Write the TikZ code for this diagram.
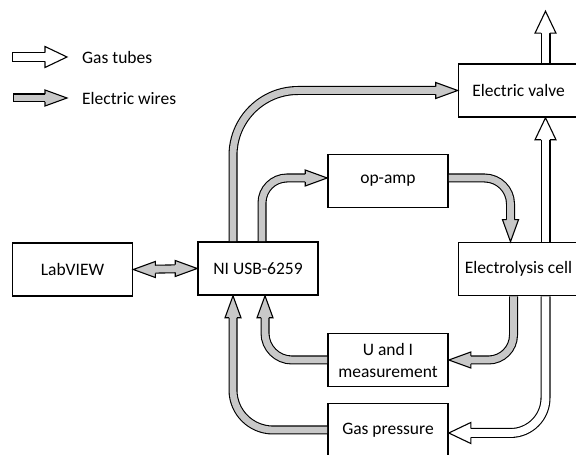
\documentclass[tikz,border=0pt]{standalone}
\usepackage{fontspec}
\setmainfont{Carlito}
\usetikzlibrary{calc}
\definecolor{wiregray}{RGB}{200,200,200}

\begin{document}
\begin{tikzpicture}[
    x=1pt, y=1pt,
    font=\fontsize{17.5}{22}\selectfont,
    box/.style={draw, line width=1.6pt, minimum width=120pt, minimum height=53pt, align=center, inner sep=2pt},
    wire/.style={draw=black, line width=1.1pt, double=wiregray, double distance=6.8pt, shorten >=21pt},
    tube/.style={draw=black, line width=1.1pt, double=white, double distance=7.8pt, shorten >=21pt},
    wirehead/.pic={\draw[line width=1.1pt, fill=wiregray] (-22,3.95) -- (-22,8) -- (0,0) -- (-22,-8) -- (-22,-3.95);},
    tubehead/.pic={\draw[line width=1.1pt, fill=white] (-22,4.45) -- (-22,10.5) -- (0,0) -- (-22,-10.5) -- (-22,-4.45);}
  ]
    \useasboundingbox (0,0) rectangle (576,455);
    \clip (0,0) rectangle (576,455);

    \node[anchor=west, inner sep=0pt] (gaskey) at (82,398) {Gas tubes};
    \node[anchor=west, inner sep=0pt] (wirekey) at (82,357) {Electric wires};
    \coordinate (gasfrom) at ([xshift=-65pt]gaskey.west);
    \coordinate (gasto) at ([xshift=-15pt]gaskey.west);
    \coordinate (wirefrom) at ([xshift=-65pt]wirekey.west);
    \coordinate (wireto) at ([xshift=-15pt]wirekey.west);

    \node[box] (lab) at (72.5,185.5) {LabVIEW};
    \node[box] (ni) at (258,186.5) {NI USB-6259};
    \node[box] (opamp) at (388,274) {op-amp};
    \node[box] (valve) at (518.5,364.5) {Electric valve};
    \node[box] (cell) at (518.5,186) {Electrolysis cell};
    \node[box] (ui) at (388,95) {U and I\\measurement};
    \node[box] (gas) at (388,25) {Gas pressure};
    \coordinate (vent) at ($(valve.north)+(27,52)$);

    \draw[tube, line cap=rect] (gasfrom) -- (gasto);
    \pic at (gasto) {tubehead};
    \draw[wire, line cap=rect] (wirefrom) -- (wireto);
    \pic at (wireto) {wirehead};

    \draw[wire, shorten <=21pt] (lab.east) -- (ni.west);
    \pic[rotate=180] at (lab.east) {wirehead};
    \pic at (ni.west) {wirehead};

    \draw[wire, rounded corners=65pt] ([xshift=-25pt]ni.north) |- (valve.west);
    \pic at (valve.west) {wirehead};
    \draw[wire, rounded corners=25pt] ([xshift=4pt]ni.north) |- ([yshift=3pt]opamp.west);
    \pic at ([yshift=3pt]opamp.west) {wirehead};
    \draw[wire, rounded corners=26pt] ([yshift=3pt]opamp.east) -| ([xshift=-8pt]cell.north);
    \pic[rotate=-90] at ([xshift=-8pt]cell.north) {wirehead};

    \draw[tube] ([xshift=27pt]cell.north) -- ([xshift=27pt]valve.south);
    \pic[rotate=90] at ([xshift=27pt]valve.south) {tubehead};
    \draw[tube] ([xshift=27pt]valve.north) -- (vent);
    \pic[rotate=90] at (vent) {tubehead};

    \draw[wire, rounded corners=25pt] ([xshift=-5pt]cell.south) |- (ui.east);
    \pic[rotate=180] at (ui.east) {wirehead};
    \draw[tube, rounded corners=35pt] ([xshift=27pt]cell.south) |- ([yshift=-3pt]gas.east);
    \pic[rotate=180] at ([yshift=-3pt]gas.east) {tubehead};

    \draw[wire, rounded corners=27pt] (ui.west) -| ([xshift=7pt]ni.south);
    \pic[rotate=90] at ([xshift=7pt]ni.south) {wirehead};
    \draw[wire, rounded corners=40pt] (gas.west) -| ([xshift=-25pt]ni.south);
    \pic[rotate=90] at ([xshift=-25pt]ni.south) {wirehead};
  \end{tikzpicture}
\end{document}
